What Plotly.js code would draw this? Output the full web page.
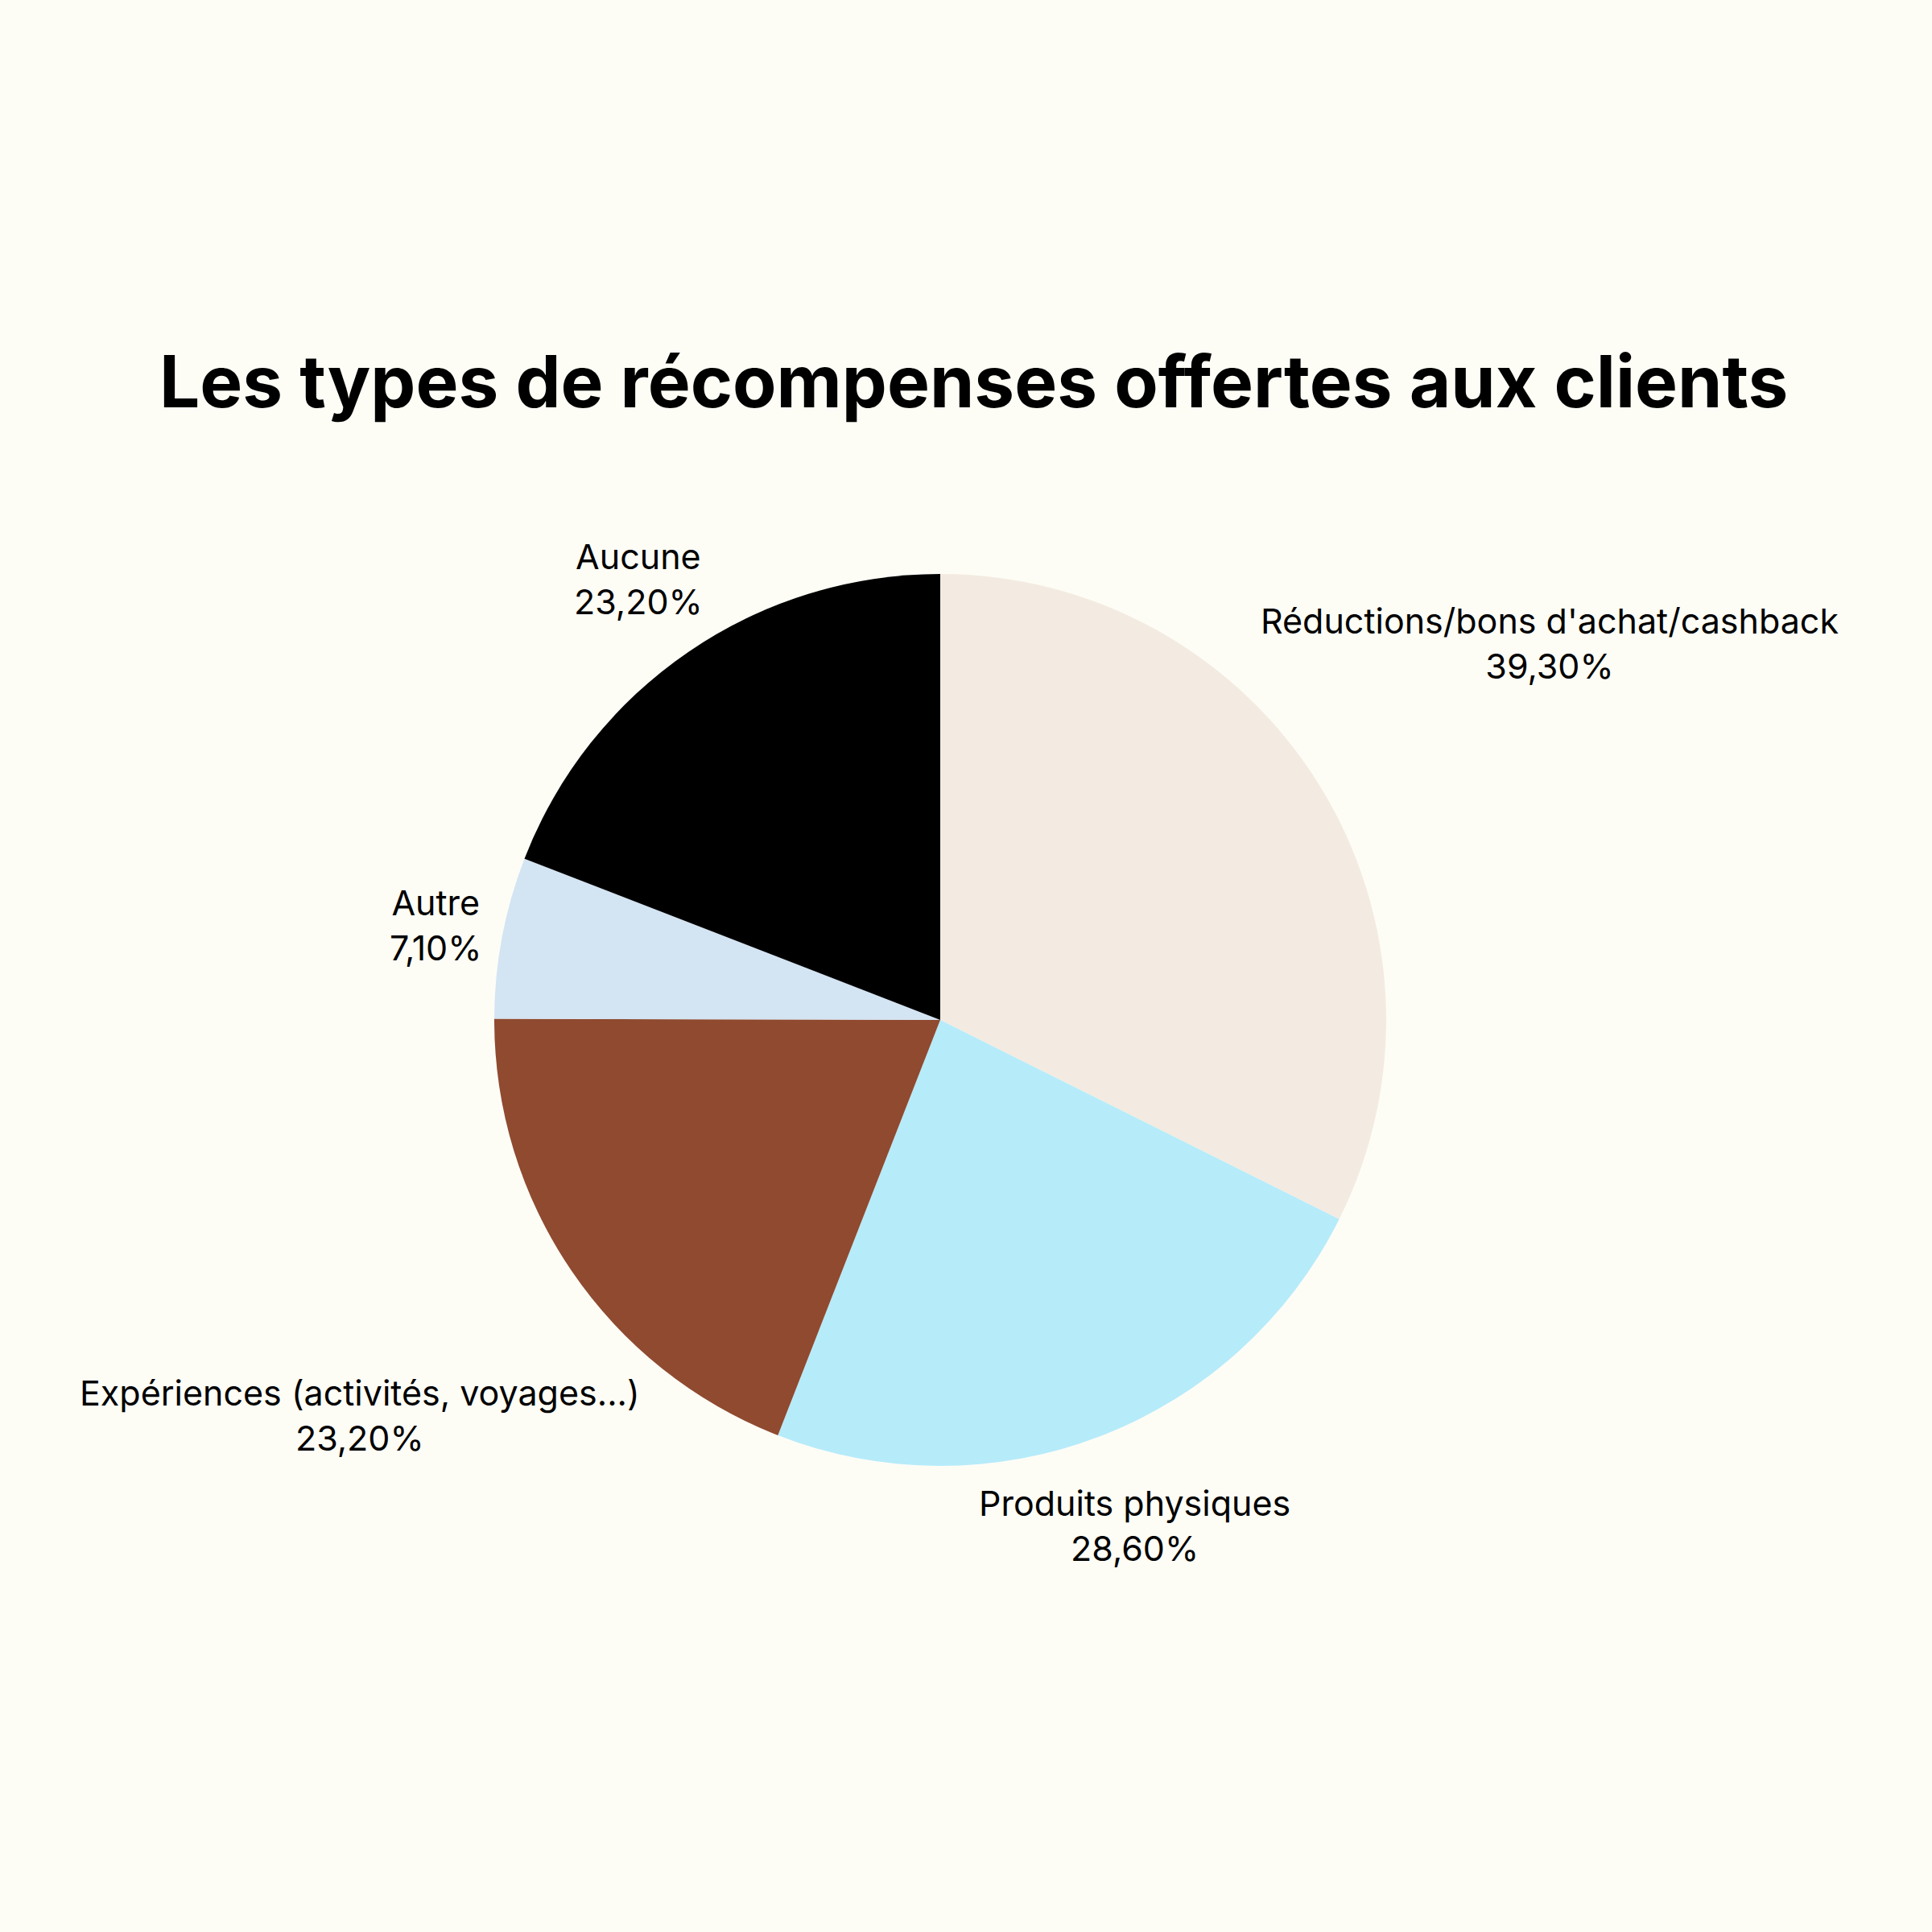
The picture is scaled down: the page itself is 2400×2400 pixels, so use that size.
<!DOCTYPE html>
<html>
<head>
<meta charset="utf-8">
<script src="https://cdn.plot.ly/plotly-3.0.1.min.js"></script>
<style>
  html, body { margin: 0; padding: 0; background: #FDFDF6; }
  #chart { width: 2400px; height: 2400px; }
</style>
</head>
<body>
<div id="chart"></div>
<script>
// ---- Data ----
const labels = [
  'Réductions/bons d\'achat/cashback',
  'Produits physiques',
  'Expériences (activités, voyages...)',
  'Autre',
  'Aucune',
];
const values    = [39.3, 28.6, 23.2, 7.1, 23.2];
const valueText = ['39,30%', '28,60%', '23,20%', '7,10%', '23,20%'];
const colors    = ['#F3EBE1', '#B6EBFA', '#8F4A30', '#D3E4F3', '#000000'];

// ---- Layout constants ----
const BG        = '#FDFDF6';
const W         = 2400, H = 2400;
const MARGIN    = { t: 713, b: 579, l: 0, r: 64 };
const plotW     = W - MARGIN.l - MARGIN.r;
const plotH     = H - MARGIN.t - MARGIN.b;
const radius    = Math.min(plotW, plotH) / 2;
const LABEL_PX  = 43;
const LINE_H    = LABEL_PX * 1.3;
const CLEARANCE = radius * 1.035;

// Label positions: centred on each slice's mid-angle ray, pushed out until the text box clears the circle
const ctx = document.createElement('canvas').getContext('2d');
ctx.font = `${LABEL_PX}px Inter`;

const total = values.reduce((a, v) => a + v, 0);
let cum = 0;
const annotations = labels.map((lab, i) => {
  const mid = (cum + values[i] / 2) / total * 2 * Math.PI;  // clockwise from 12 o'clock
  cum += values[i];
  const ux = Math.sin(mid), uy = -Math.cos(mid);            // screen direction (y down)
  const w = Math.max(ctx.measureText(lab).width, ctx.measureText(valueText[i]).width) / 2;
  const h = LINE_H;
  const boxDist = (d) => {
    const px = d * Math.abs(ux) - w, py = d * Math.abs(uy) - h;
    if (px <= 0 && py <= 0) return 0;
    if (px <= 0) return py;
    if (py <= 0) return px;
    return Math.hypot(px, py);
  };
  let d = 0;
  while (boxDist(d) < CLEARANCE) d += 0.5;
  return {
    text:      `${lab}<br>${valueText[i]}`,
    xref:      'paper', yref: 'paper',
    x:         0.5 + d * ux / plotW,
    y:         0.5 - d * uy / plotH,
    xanchor:   'center', yanchor: 'middle',
    align:     'center',
    showarrow: false,
    font:      { family: 'Inter, sans-serif', size: LABEL_PX, color: '#000000' },
  };
});

Plotly.newPlot('chart', [
  {
    type:       'pie',
    labels:     labels,
    values:     values,
    sort:       false,
    direction:  'clockwise',
    rotation:   0,
    textinfo:   'none',
    hoverinfo:  'label',
    marker:     { colors: colors, line: { width: 0 } },
    showlegend: false,
  },
], {
  width:  W,
  height: H,
  paper_bgcolor: BG,
  plot_bgcolor:  BG,
  font: { family: 'Inter, sans-serif', color: '#000000' },
  title: {
    text: '<b>Les types de récompenses offertes aux clients</b>',
    font: { family: 'Inter, sans-serif', size: 89, color: '#000000' },
    x: 0.504, xanchor: 'center',
    yref: 'container', y: 0.802, yanchor: 'middle',
  },
  annotations: annotations,
  margin: MARGIN,
}, { displayModeBar: false, staticPlot: true });
</script>
</body>
</html>
